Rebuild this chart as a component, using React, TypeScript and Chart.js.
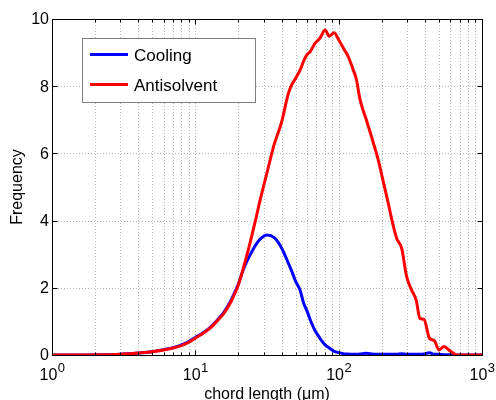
import React, { useEffect, useRef } from "react";
import { Chart, registerables } from "chart.js";

Chart.register(...registerables);

// chord length grid (µm)
const chordLength = [
  1, 1.5, 2, 2.5, 3, 3.5, 4, 5, 6, 7, 8, 9, 10, 11.2, 12.6, 14.1, 15.8, 17.8, 18.9, 20, 21.1,
  22.4, 23.7, 25.1, 26.6, 28.2, 31.6, 35.5, 39.8, 44.7, 47, 50, 53.8, 57, 60, 63.3, 68.5, 74,
  80.5, 86, 93, 100, 108, 116.6, 126, 133, 141, 156, 175, 189, 206, 222, 235, 254, 275, 298,
  323, 347, 369, 394, 430, 464, 502, 543, 595, 670, 750, 850, 1000,
];

const cooling = [
  0, 0, 0.005, 0.01, 0.02, 0.04, 0.06, 0.1, 0.16, 0.22, 0.3, 0.4, 0.52, 0.65, 0.81, 1.02,
  1.27, 1.64, 1.88, 2.12, 2.42, 2.7, 2.92, 3.12, 3.3, 3.44, 3.57, 3.49, 3.2, 2.72, 2.5, 2.2,
  1.93, 1.54, 1.32, 1.05, 0.72, 0.5, 0.3, 0.21, 0.11, 0.07, 0.04, 0.03, 0.02, 0.02, 0.03,
  0.05, 0.02, 0.02, 0.02, 0.02, 0.02, 0.02, 0.04, 0.02, 0.02, 0.02, 0.02, 0.03, 0.07, 0.02,
  0.02, 0.01, 0.01, 0, 0, 0, 0,
];

const antisolvent = [
  0, 0, 0.005, 0.01, 0.02, 0.04, 0.06, 0.1, 0.15, 0.21, 0.28, 0.38, 0.5, 0.63, 0.79, 1.0,
  1.24, 1.6, 1.84, 2.1, 2.42, 2.82, 3.22, 3.65, 4.1, 4.58, 5.42, 6.27, 6.9, 7.8, 8.04, 8.23,
  8.48, 8.75, 8.93, 9.03, 9.28, 9.43, 9.67, 9.49, 9.59, 9.38, 9.13, 8.88, 8.5, 8.2, 7.6, 7.0,
  6.3, 5.8, 5.11, 4.51, 4.02, 3.47, 3.18, 2.33, 1.93, 1.64, 1.09, 1.06, 0.5, 0.43, 0.15,
  0.25, 0.13, 0, 0, 0, 0,
];

const seriesNames = ["Cooling", "Antisolvent"];
const seriesColors = ["#0000ff", "#ff0000"];
const xMajorTicks = [1, 10, 100, 1000];
const xTickBase = "10";
const xTickExponents = ["0", "1", "2", "3"];
const yTicks = [0, 2, 4, 6, 8, 10];
const xTitle = "chord length (\u03bcm)";
const yTitle = "Frequency";

const FONT = "Arial, 'Liberation Sans', sans-serif";

const minorValues = (): number[] => {
  const out: number[] = [];
  for (let d = 1; d < 1000; d *= 10) {
    for (let m = 2; m <= 9; m++) out.push(m * d);
  }
  return out;
};

const gridPlugin = {
  id: "matlabGrid",
  beforeDatasetsDraw(chart: any) {
    const { ctx, chartArea: a, scales } = chart;
    const xs = scales.x;
    const ys = scales.y;
    ctx.save();
    ctx.strokeStyle = "#b8b8b8";
    ctx.lineWidth = 1;
    ctx.setLineDash([1, 2]);
    const xVals = [...minorValues(), 10, 100];
    for (const v of xVals) {
      const px = Math.round(xs.getPixelForValue(v)) + 0.5;
      ctx.beginPath();
      ctx.moveTo(px, a.top);
      ctx.lineTo(px, a.bottom);
      ctx.stroke();
    }
    for (const v of yTicks.slice(1, -1)) {
      const py = Math.round(ys.getPixelForValue(v)) + 0.5;
      ctx.beginPath();
      ctx.moveTo(a.left, py);
      ctx.lineTo(a.right, py);
      ctx.stroke();
    }
    ctx.restore();
  },
};

const axesPlugin = {
  id: "matlabAxes",
  afterDraw(chart: any) {
    const { ctx, chartArea: a, scales } = chart;
    const xs = scales.x;
    const ys = scales.y;
    const L = Math.round(a.left) + 0.5;
    const R = Math.round(a.right) + 0.5;
    const T = Math.round(a.top) + 0.5;
    const B = Math.round(a.bottom) + 0.5;
    ctx.save();
    ctx.setLineDash([]);
    ctx.strokeStyle = "#000";
    ctx.lineWidth = 1;
    ctx.strokeRect(L, T, R - L, B - T);

    // x ticks
    const drawXTick = (v: number, len: number) => {
      const px = Math.round(xs.getPixelForValue(v)) + 0.5;
      ctx.beginPath();
      ctx.moveTo(px, B);
      ctx.lineTo(px, B - len);
      ctx.moveTo(px, T);
      ctx.lineTo(px, T + len);
      ctx.stroke();
    };
    minorValues().forEach((v) => drawXTick(v, 3));
    xMajorTicks.forEach((v) => drawXTick(v, 5));
    // y ticks
    yTicks.forEach((v) => {
      const py = Math.round(ys.getPixelForValue(v)) + 0.5;
      ctx.beginPath();
      ctx.moveTo(L, py);
      ctx.lineTo(L + 5, py);
      ctx.moveTo(R, py);
      ctx.lineTo(R - 5, py);
      ctx.stroke();
    });

    // y tick labels
    ctx.fillStyle = "#000";
    ctx.font = `16px ${FONT}`;
    ctx.textAlign = "right";
    ctx.textBaseline = "middle";
    yTicks.forEach((v) => {
      ctx.fillText(String(v), a.left - 3, ys.getPixelForValue(v) + 1);
    });

    // x tick labels 10^k
    ctx.textBaseline = "alphabetic";
    ctx.textAlign = "left";
    xMajorTicks.forEach((v, i) => {
      const px = xs.getPixelForValue(v);
      ctx.font = `16px ${FONT}`;
      const w1 = ctx.measureText(xTickBase).width;
      ctx.font = `13px ${FONT}`;
      const w2 = ctx.measureText(xTickExponents[i]).width;
      const start = px - (w1 + w2) / 2;
      ctx.font = `16px ${FONT}`;
      ctx.fillText(xTickBase, start, a.bottom + 25);
      ctx.font = `13px ${FONT}`;
      ctx.fillText(xTickExponents[i], start + w1 + 0.5, a.bottom + 17);
    });

    // axis titles
    ctx.font = `16px ${FONT}`;
    ctx.textAlign = "center";
    ctx.fillText(xTitle, (a.left + a.right) / 2, a.bottom + 44);
    ctx.save();
    ctx.translate(22, (a.top + a.bottom) / 2);
    ctx.rotate(-Math.PI / 2);
    ctx.fillText(yTitle, 0, 0);
    ctx.restore();

    // legend
    const lx = 82.5, ly = 38.5, lw = 173, lh = 64;
    ctx.fillStyle = "#fff";
    ctx.fillRect(lx, ly, lw, lh);
    ctx.strokeStyle = "#808080";
    ctx.lineWidth = 1;
    ctx.strokeRect(lx, ly, lw, lh);
    ctx.font = `17px ${FONT}`;
    ctx.textAlign = "left";
    ctx.textBaseline = "alphabetic";
    seriesNames.forEach((name, i) => {
      const y = 54.5 + i * 30;
      ctx.strokeStyle = seriesColors[i];
      ctx.lineWidth = 3;
      ctx.beginPath();
      ctx.moveTo(90, y);
      ctx.lineTo(128, y);
      ctx.stroke();
      ctx.fillStyle = "#000";
      ctx.fillText(name, 134, y + 6.5);
    });
    ctx.restore();
  },
};

export default function App() {
  const ref = useRef<HTMLCanvasElement>(null);
  useEffect(() => {
    if (!ref.current) return;
    const chart = new Chart(ref.current, {
      type: "line",
      data: {
        datasets: [
          {
            label: seriesNames[0],
            data: chordLength.map((x, i) => ({ x, y: cooling[i] })),
            borderColor: seriesColors[0],
            borderWidth: 3,
            pointRadius: 0,
            cubicInterpolationMode: "monotone",
            order: 1,
          },
          {
            label: seriesNames[1],
            data: chordLength.map((x, i) => ({ x, y: antisolvent[i] })),
            borderColor: seriesColors[1],
            borderWidth: 3,
            pointRadius: 0,
            cubicInterpolationMode: "monotone",
            order: 0,
          },
        ],
      },
      options: {
        responsive: false,
        animation: false,
        layout: { padding: { left: 52, right: 14, top: 19, bottom: 45 } },
        plugins: { legend: { display: false }, tooltip: { enabled: false } },
        scales: {
          x: { type: "logarithmic", min: 1, max: 1000, display: false },
          y: { type: "linear", min: 0, max: 10, display: false },
        },
      },
      plugins: [gridPlugin, axesPlugin],
    } as any);
    return () => chart.destroy();
  }, []);
  return (
    <div style={{ position: "absolute", left: 0, top: 0, width: 496, height: 400, background: "#fff" }}>
      <canvas ref={ref} width={496} height={400} />
    </div>
  );
}
